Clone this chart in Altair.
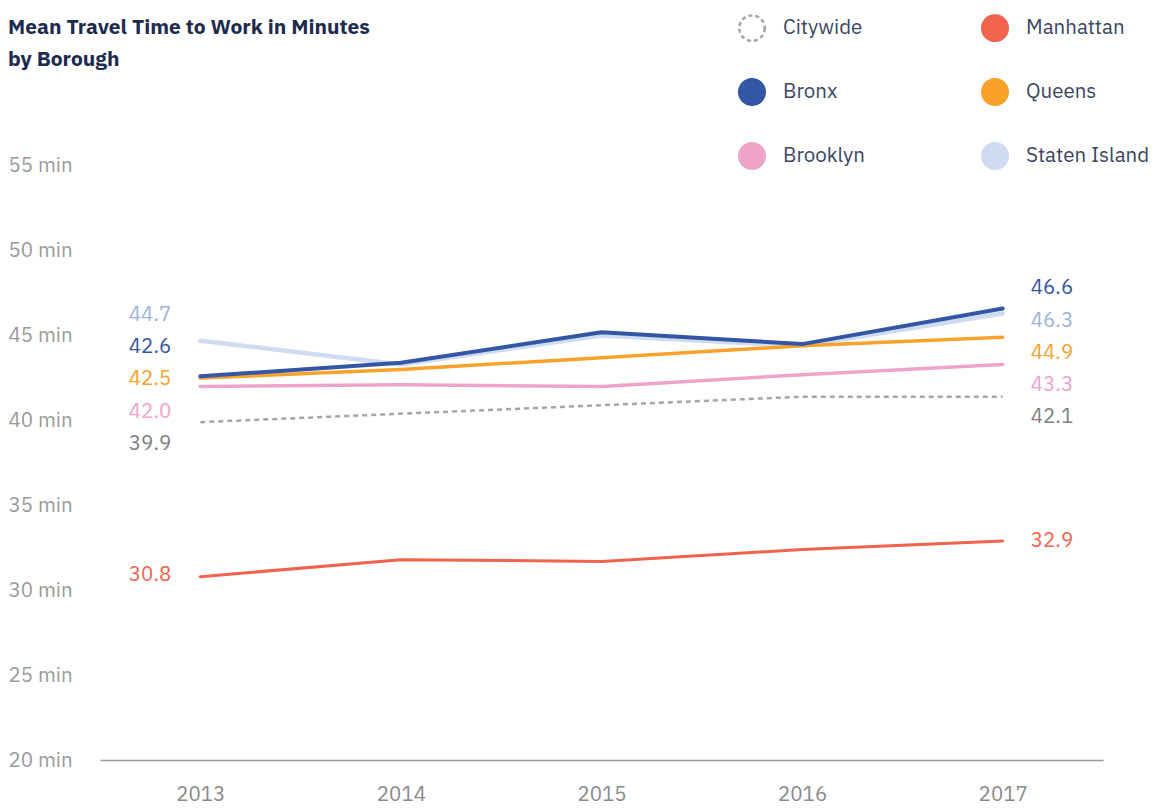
import altair as alt
import pandas as pd

# ---------------- data ----------------
years = ["2013", "2014", "2015", "2016", "2017"]
series_names = ["Citywide", "Manhattan", "Bronx", "Queens", "Brooklyn", "Staten Island"]

citywide = [39.9, 40.4, 40.9, 41.4, 41.4]
manhattan = [30.8, 31.8, 31.7, 32.4, 32.9]
bronx = [42.6, 43.4, 45.2, 44.5, 46.6]
queens = [42.5, 43.0, 43.7, 44.4, 44.9]
brooklyn = [42.0, 42.1, 42.0, 42.7, 43.3]
staten_island = [44.7, 43.3, 45.0, 44.4, 46.3]

start_labels = ["39.9", "30.8", "42.6", "42.5", "42.0", "44.7"]
end_labels = ["42.1", "32.9", "46.6", "44.9", "43.3", "46.3"]

line_colors = ["#a4a4ac", "#f0644e", "#3357a5", "#f9a12a", "#eea4c8", "#cfdbf0"]
label_colors = ["#808080", "#f0644e", "#3357a5", "#f9a12a", "#eea4c8", "#9db2dd"]
legend_fill = ["#ffffff", "#f0644e", "#3357a5", "#f9a12a", "#eea4c8", "#cfdbf0"]
legend_dash = [[4, 3], [1, 0], [1, 0], [1, 0], [1, 0], [1, 0]]
line_widths = [2.5, 3, 4, 3.5, 3.5, 4.5]
y_ticks = [20, 25, 30, 35, 40, 45, 50, 55]

FONT = "IBM Plex Sans, Noto Sans, sans-serif"
FS = 20.5
values = [citywide, manhattan, bronx, queens, brooklyn, staten_island]

rows = []
for name, vals in zip(series_names, values):
    for yr, v in zip(years, vals):
        rows.append({"year": yr, "borough": name, "minutes": v})
df = pd.DataFrame(rows)

# ---------------- label placement (dodged) ----------------
GAP = 1.89  # minutes between stacked labels


def dodge(idx_vals):
    # split into clusters of nearby values, spread each around its mid-range
    items = sorted(idx_vals, key=lambda t: -t[1])
    clusters, cur = [], [items[0]]
    for it in items[1:]:
        if cur[-1][1] - it[1] > 4:
            clusters.append(cur)
            cur = [it]
        else:
            cur.append(it)
    clusters.append(cur)
    pos = {}
    for cl in clusters:
        mid = (cl[0][1] + cl[-1][1]) / 2
        n = len(cl)
        for k, (i, _) in enumerate(cl):
            pos[i] = mid + ((n - 1) / 2 - k) * GAP
    return pos


lab_rows = []
for side, yi, texts in (("start", 0, start_labels), ("end", -1, end_labels)):
    ps = dodge([(i, v[yi]) for i, v in enumerate(values)])
    for i, name in enumerate(series_names):
        lab_rows.append({"year": years[yi], "borough": name, "pos": ps[i],
                         "text": texts[i], "side": side})
labels_df = pd.DataFrame(lab_rows)

# ---------------- chart ----------------
x_enc = alt.X("year:N", sort=years,
              scale=alt.Scale(type="point", padding=0.5),
              axis=alt.Axis(title=None, labelAngle=0, ticks=False, grid=False,
                            domainColor="#9a9a9a", domainWidth=1.5,
                            labelFontSize=FS, labelColor="#8a8a8a", labelFont=FONT,
                            labelPadding=24))
y_scale = alt.Scale(domain=[20, 60], nice=False, zero=False)
y_enc = alt.Y("minutes:Q", scale=y_scale,
              axis=alt.Axis(title=None, values=y_ticks, labelExpr="datum.value + ' min'",
                            domain=False, ticks=False, grid=False,
                            labelAlign="left", labelPadding=92, labelBaseline="middle",
                            labelFontSize=FS, labelColor="#9a9a9a", labelFont=FONT))

base = alt.Chart(df)

draw_order = ["Staten Island", "Citywide", "Brooklyn", "Manhattan", "Queens", "Bronx"]
layers = []
for name in draw_order:
    i = series_names.index(name)
    kw = dict(color=line_colors[i], strokeWidth=line_widths[i], strokeCap="round",
              strokeJoin="round")
    if name == "Citywide":
        kw["strokeDash"] = [5, 4]
        kw["strokeCap"] = "butt"
    layers.append(
        base.transform_filter(alt.datum.borough == name)
        .mark_line(**kw)
        .encode(x=x_enc, y=y_enc)
    )

# legend-only layer (no data drawn)
leg_common = dict(orient="none", legendX=638, legendY=-67, columns=2, direction="horizontal",
                  title=None)
legend_layer = base.transform_filter("false").mark_point(strokeWidth=2.5, opacity=1).encode(
    x=x_enc, y=y_enc,
    fill=alt.Fill("borough:N", scale=alt.Scale(domain=series_names, range=legend_fill),
                  legend=alt.Legend(**leg_common, symbolSize=650, symbolStrokeWidth=2.5,
                                    labelFontSize=FS, labelFont=FONT, labelColor="#3a4562",
                                    labelFontWeight="normal",
                                    labelOffset=17, rowPadding=28, columnPadding=112,
                                    padding=0, symbolType="circle")),
    stroke=alt.Stroke("borough:N", scale=alt.Scale(domain=series_names, range=line_colors),
                      legend=alt.Legend(**leg_common)),
    strokeDash=alt.StrokeDash("borough:N",
                              scale=alt.Scale(domain=series_names, range=legend_dash),
                              legend=alt.Legend(**leg_common)),
)

label_color = alt.Color("borough:N", scale=alt.Scale(domain=series_names, range=label_colors),
                        legend=None)
lab_base = alt.Chart(labels_df)
left_labels = lab_base.transform_filter(alt.datum.side == "start").mark_text(
    align="right", baseline="middle", dx=-29, dy=-2, fontSize=FS, font=FONT
).encode(x=x_enc, y=alt.Y("pos:Q", scale=y_scale), text="text:N", color=label_color)
right_labels = lab_base.transform_filter(alt.datum.side == "end").mark_text(
    align="left", baseline="middle", dx=28, fontSize=FS, font=FONT
).encode(x=x_enc, y=alt.Y("pos:Q", scale=y_scale), text="text:N", color=label_color)

chart = alt.layer(*layers, legend_layer, left_labels, right_labels).properties(
    width=1003, height=679,
    title=alt.TitleParams(["Mean Travel Time to Work in Minutes", "by Borough"],
                          anchor="start", frame="bounds", fontSize=21, font=FONT,
                          fontWeight="bold", color="#1c2b4e", lineHeight=32, offset=10,
                          dy=66),
    autosize=alt.AutoSizeParams(type="none"),
    padding={"left": 92, "top": 73, "right": 47, "bottom": 50},
).configure_view(stroke=None)

chart.save("out.html", embed_options={"renderer": "svg", "actions": False})
